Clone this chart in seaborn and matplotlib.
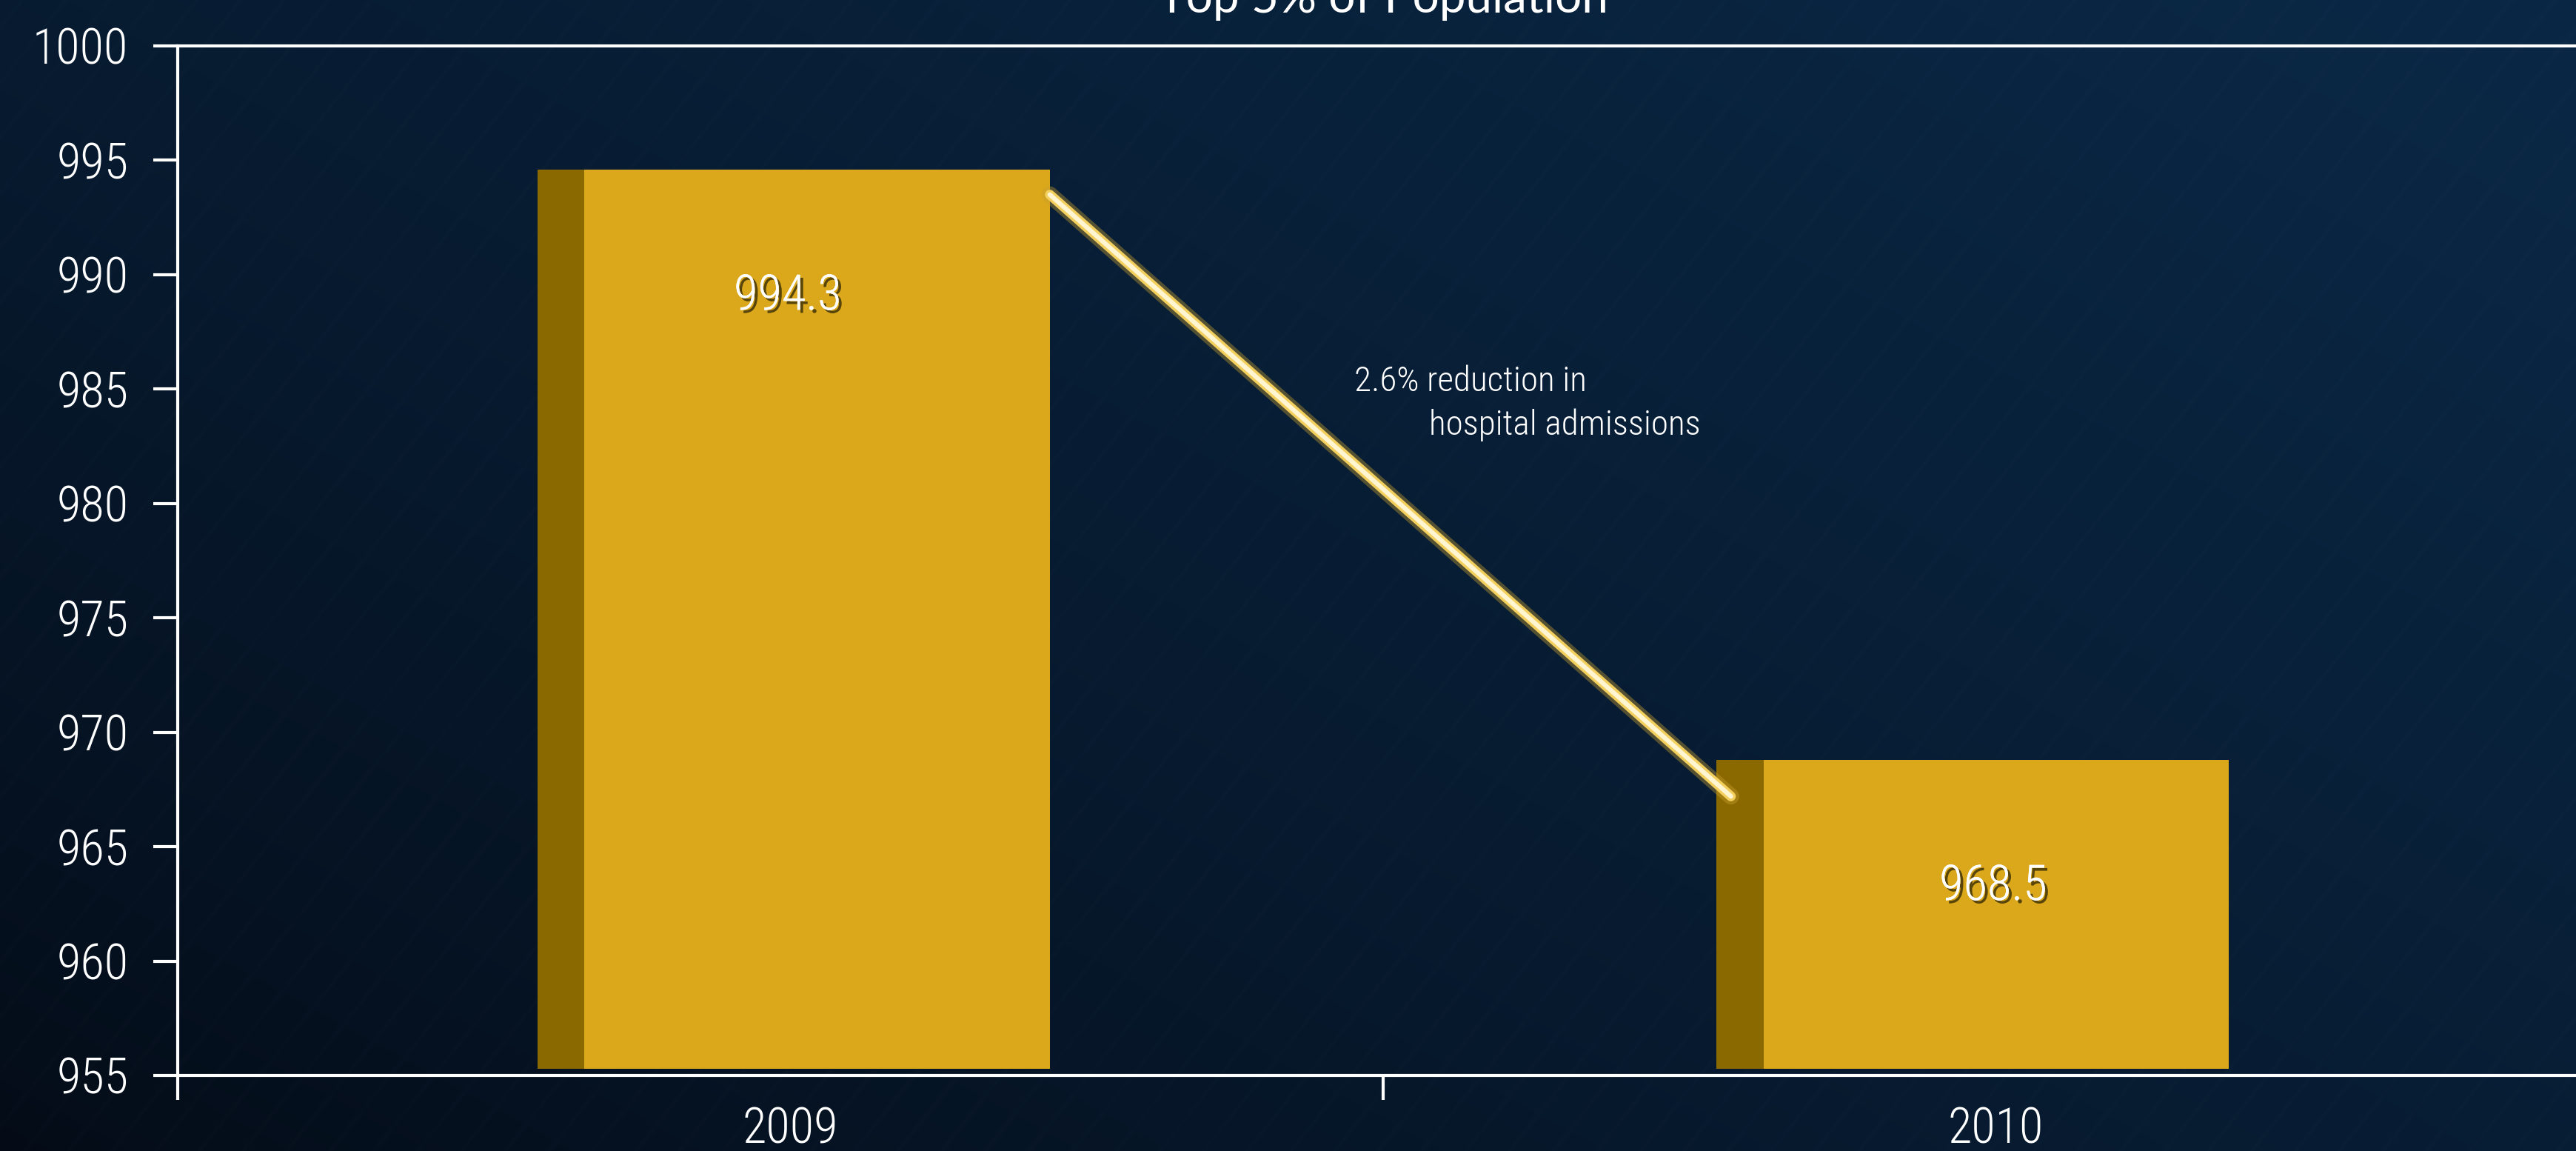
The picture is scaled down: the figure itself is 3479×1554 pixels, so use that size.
import numpy as np
import pandas as pd
import matplotlib
matplotlib.use('Agg')
import matplotlib.pyplot as plt
import matplotlib.patheffects as pe
import matplotlib.transforms as mtransforms
from matplotlib import font_manager
import seaborn as sns

# Data
years = ['2009', '2010']
admissions = [994.3, 968.5]
y_ticks = [955, 960, 965, 970, 975, 980, 985, 990, 995, 1000]
title = 'Top 5% of Population'
note_tail = 'reduction in'
note_line2 = 'hospital admissions'

# Styling
BASE = 955.3          # bars start just above the axis
TOP_LIFT = 0.3        # bevel on top of the bars
W = 0.425             # bar width
SIDE = 0.039          # darker side face of the bar
NUDGE = 0.011         # bars sit slightly inward from the category centres
GOLD = '#DBA81B'
GOLD_DARK = '#8A6901'

installed = {f.name for f in font_manager.fontManager.ttflist}
narrow = next((f for f in ['Roboto Condensed', 'Liberation Sans Narrow',
                           'Open Sans Condensed'] if f in installed), 'Liberation Sans')

sns.set_theme(style='white')
plt.rcParams['font.family'] = [narrow, 'DejaVu Sans']
plt.rcParams['font.weight'] = 'light'

df = pd.DataFrame({'year': years, 'admissions': admissions})

fig = plt.figure(figsize=(34.8, 15.54), dpi=100)

# Background gradient with faint diagonal streaks
bg = fig.add_axes([0, 0, 1, 1], zorder=-10)
h, w = 777, 1740
yy, xx = np.mgrid[0:h, 0:w]
t = np.clip(0.55 * xx / w + 0.45 * (1 - yy / h), 0, 1) ** 0.75
dark = np.array([4, 11, 22]) / 255
light = np.array([10, 40, 70]) / 255
img = dark + (light - dark) * t[..., None]
phase = (xx * 0.78 + yy * 0.62) % 23
streak = np.exp(-(phase - 11) ** 2 / 1.2) * 0.008
img = np.clip(img + streak[..., None], 0, 1)
bg.imshow(img, extent=[0, 1, 0, 1], aspect='auto', interpolation='bilinear')
bg.set_axis_off()

ax = fig.add_axes([240 / 3480, 1 - 1452 / 1554, 3256 / 3480, 1390 / 1554])
ax.set_facecolor('none')

xs = np.arange(len(years))
shift = np.where(xs == 0, NUDGE, -NUDGE)
tops = np.array(admissions) + TOP_LIFT

sns.barplot(data=df, x='year', y='admissions', color=GOLD, width=W,
            saturation=1, ax=ax, zorder=2)
for p, top, s in zip(ax.patches, tops, shift):
    p.set_x(p.get_x() + s)
    p.set_y(BASE)
    p.set_height(top - BASE)
    p.set_linewidth(0)

ax.bar(xs + shift - W / 2 + SIDE / 2, tops - BASE, width=SIDE, bottom=BASE,
       color=GOLD_DARK, linewidth=0, zorder=3)

# glowing connector between the bars
x0, x1 = W / 2 + shift[0], 1 - W / 2 + shift[1] + 0.012
y0, y1 = admissions[0] - 0.8, admissions[1] - 1.3
ax.plot([x0, x1], [y0, y1], color='#C9A030', lw=16, alpha=0.4,
        solid_capstyle='round', zorder=4)
ax.plot([x0, x1], [y0, y1], color='#F3CF5E', lw=9.5,
        solid_capstyle='round', zorder=4)
ax.plot([x0, x1], [y0, y1], color='#FFF5D0', lw=4.5,
        solid_capstyle='round', zorder=5)

# value labels
shadow = [pe.withSimplePatchShadow(offset=(3, -3), shadow_rgbFace='#4a3a08', alpha=0.9),
          pe.Normal()]
for x, v in zip(xs, admissions):
    ax.text(x + 0.006, v - 5.25, f'{v:.1f}', ha='center', va='center',
            color='white', fontsize=48, zorder=6, path_effects=shadow)

pct = (admissions[0] - admissions[1]) / admissions[0] * 100
ax.text(0.488, 0.674, f'{pct:.1f}% {note_tail}', transform=ax.transAxes,
        ha='left', va='center', color='white', fontsize=34)
ax.text(0.519, 0.632, note_line2, transform=ax.transAxes,
        ha='left', va='center', color='white', fontsize=34)

# axes
ax.set_ylim(955, 1000)
ax.set_xlim(-0.5, 1.5)
ax.set_yticks(y_ticks)
ax.set_yticklabels([str(v) for v in y_ticks])
ax.tick_params(axis='y', colors='white', labelsize=48, length=24, width=3,
               pad=24, left=True, direction='out')
ax.set_xticks([-0.5, 0.5, 1.5])
ax.set_xticklabels([])
ax.set_xticks(xs, minor=True)
ax.set_xticklabels(years, minor=True)
ax.tick_params(axis='x', which='major', colors='white', length=24, width=3,
               bottom=True, direction='out')
ax.tick_params(axis='x', which='minor', colors='white', labelsize=48,
               length=0, pad=30)
offset = mtransforms.ScaledTranslation(0.13, 0, fig.dpi_scale_trans)
for lbl in ax.get_xticklabels(minor=True):
    lbl.set_transform(lbl.get_transform() + offset)
for side in ['left', 'top', 'bottom']:
    ax.spines[side].set_visible(True)
    ax.spines[side].set_color('white')
    ax.spines[side].set_linewidth(3)
ax.spines['right'].set_visible(False)
ax.set_xlabel('')
ax.set_ylabel('')
ax.grid(False)

fig.text((240 + 3496) / 2 / 3480, 1 - 17 / 1554, title, ha='center',
         va='baseline', color='white', fontsize=46,
         family=['Lato', 'DejaVu Sans'], fontweight='normal')

fig.savefig('out.png', dpi=100)
